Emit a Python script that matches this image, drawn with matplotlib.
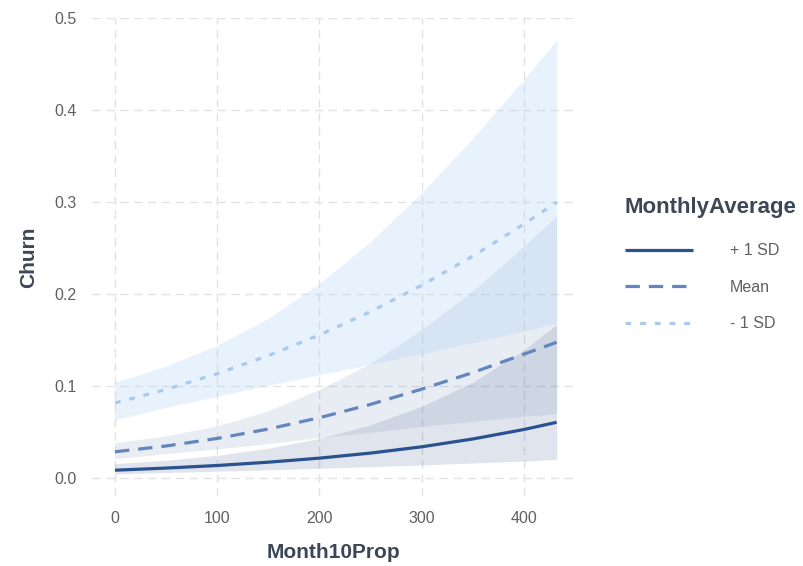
import matplotlib
matplotlib.use("Agg")
import matplotlib.pyplot as plt

plt.rcParams['font.family'] = ['Liberation Sans', 'DejaVu Sans']

# predicted churn by Month10Prop for three levels of MonthlyAverage
month10 = [0, 50, 100, 150, 200, 250, 300, 350, 400, 432]

plus_sd = [0.0090, 0.0113, 0.0141, 0.0177, 0.0221, 0.0276, 0.0344, 0.0429, 0.0532, 0.0610]
plus_sd_lo = [0.0050, 0.0064, 0.0079, 0.0094, 0.0111, 0.0128, 0.0147, 0.0168, 0.0190, 0.0206]
plus_sd_hi = [0.0161, 0.0198, 0.0252, 0.0328, 0.0435, 0.0583, 0.0783, 0.1046, 0.1394, 0.1674]

mean = [0.0290, 0.0353, 0.0435, 0.0537, 0.0660, 0.0805, 0.0970, 0.1150, 0.1350, 0.1479]
mean_lo = [0.0216, 0.0269, 0.0322, 0.0378, 0.0445, 0.0502, 0.0565, 0.0620, 0.0674, 0.0703]
mean_hi = [0.0387, 0.0463, 0.0571, 0.0735, 0.0968, 0.1251, 0.1617, 0.2034, 0.2524, 0.2851]

minus_sd = [0.0820, 0.0967, 0.1138, 0.1334, 0.1558, 0.1812, 0.2098, 0.2414, 0.2763, 0.3000]
minus_sd_lo = [0.0639, 0.0770, 0.0894, 0.1013, 0.1126, 0.1239, 0.1355, 0.1474, 0.1601, 0.1683]
minus_sd_hi = [0.1046, 0.1220, 0.1447, 0.1738, 0.2117, 0.2573, 0.3103, 0.3693, 0.4334, 0.4760]

labels = ['+ 1 SD', 'Mean', '- 1 SD']
line_colors = ['#2a5190', '#6386c0', '#a8caee']
band_colors = ['#2f4f86', '#6a82b0', '#a9d0f5']
band_alpha = [0.15, 0.15, 0.26]
styles = ['-', (0, (4.5, 2.8)), (0, (1.8, 2.8))]

fig = plt.figure(figsize=(8.04, 5.66), dpi=100)
ax = fig.add_axes([0.1144, 0.1237, 0.6008, 0.8445])

series = [(plus_sd, plus_sd_lo, plus_sd_hi),
          (mean, mean_lo, mean_hi),
          (minus_sd, minus_sd_lo, minus_sd_hi)]

for (y, lo, hi), c, a in zip(series, band_colors, band_alpha):
    ax.fill_between(month10, lo, hi, color=c, alpha=a, linewidth=0)

handles = []
for (y, lo, hi), c, ls, lab in zip(series, line_colors, styles, labels):
    h, = ax.plot(month10, y, color=c, lw=2.3, linestyle=ls, label=lab,
                 dash_capstyle='butt', solid_capstyle='butt')
    handles.append(h)

ax.set_xlim(-22.5, 450)
ax.set_ylim(-0.019, 0.50)
ax.set_xticks([0, 100, 200, 300, 400])
ax.set_yticks([0.0, 0.1, 0.2, 0.3, 0.4, 0.5])
ax.set_yticklabels(['0.0', '0.1', '0.2', '0.3', '0.4', '0.5'])

ax.grid(True, color='#e2e2e2', linestyle=(0, (6, 4)), linewidth=1.0)
ax.set_axisbelow(True)
for s in ax.spines.values():
    s.set_visible(False)
ax.tick_params(length=0, labelsize=11.5, labelcolor='#606060', pad=11)

ax.set_xlabel('Month10Prop', fontsize=15, fontweight='bold', color='#3d4656', labelpad=12)
ax.set_ylabel('Churn', fontsize=15, fontweight='bold', color='#3d4656', labelpad=12)

leg = fig.legend(handles=handles, loc='center left', bbox_to_anchor=(0.769, 0.533),
                 frameon=False, title='MonthlyAverage', fontsize=11.5,
                 handlelength=4.3, handletextpad=2.3, labelspacing=1.35,
                 borderaxespad=0)
leg.get_title().set_fontsize(16)
leg.get_title().set_fontweight('bold')
leg.get_title().set_color('#3d4656')
leg._legend_box.align = 'left'
leg._legend_box.sep = 18
for t in leg.get_texts():
    t.set_color('#606060')

fig.savefig('out.png', dpi=100, facecolor='white')
